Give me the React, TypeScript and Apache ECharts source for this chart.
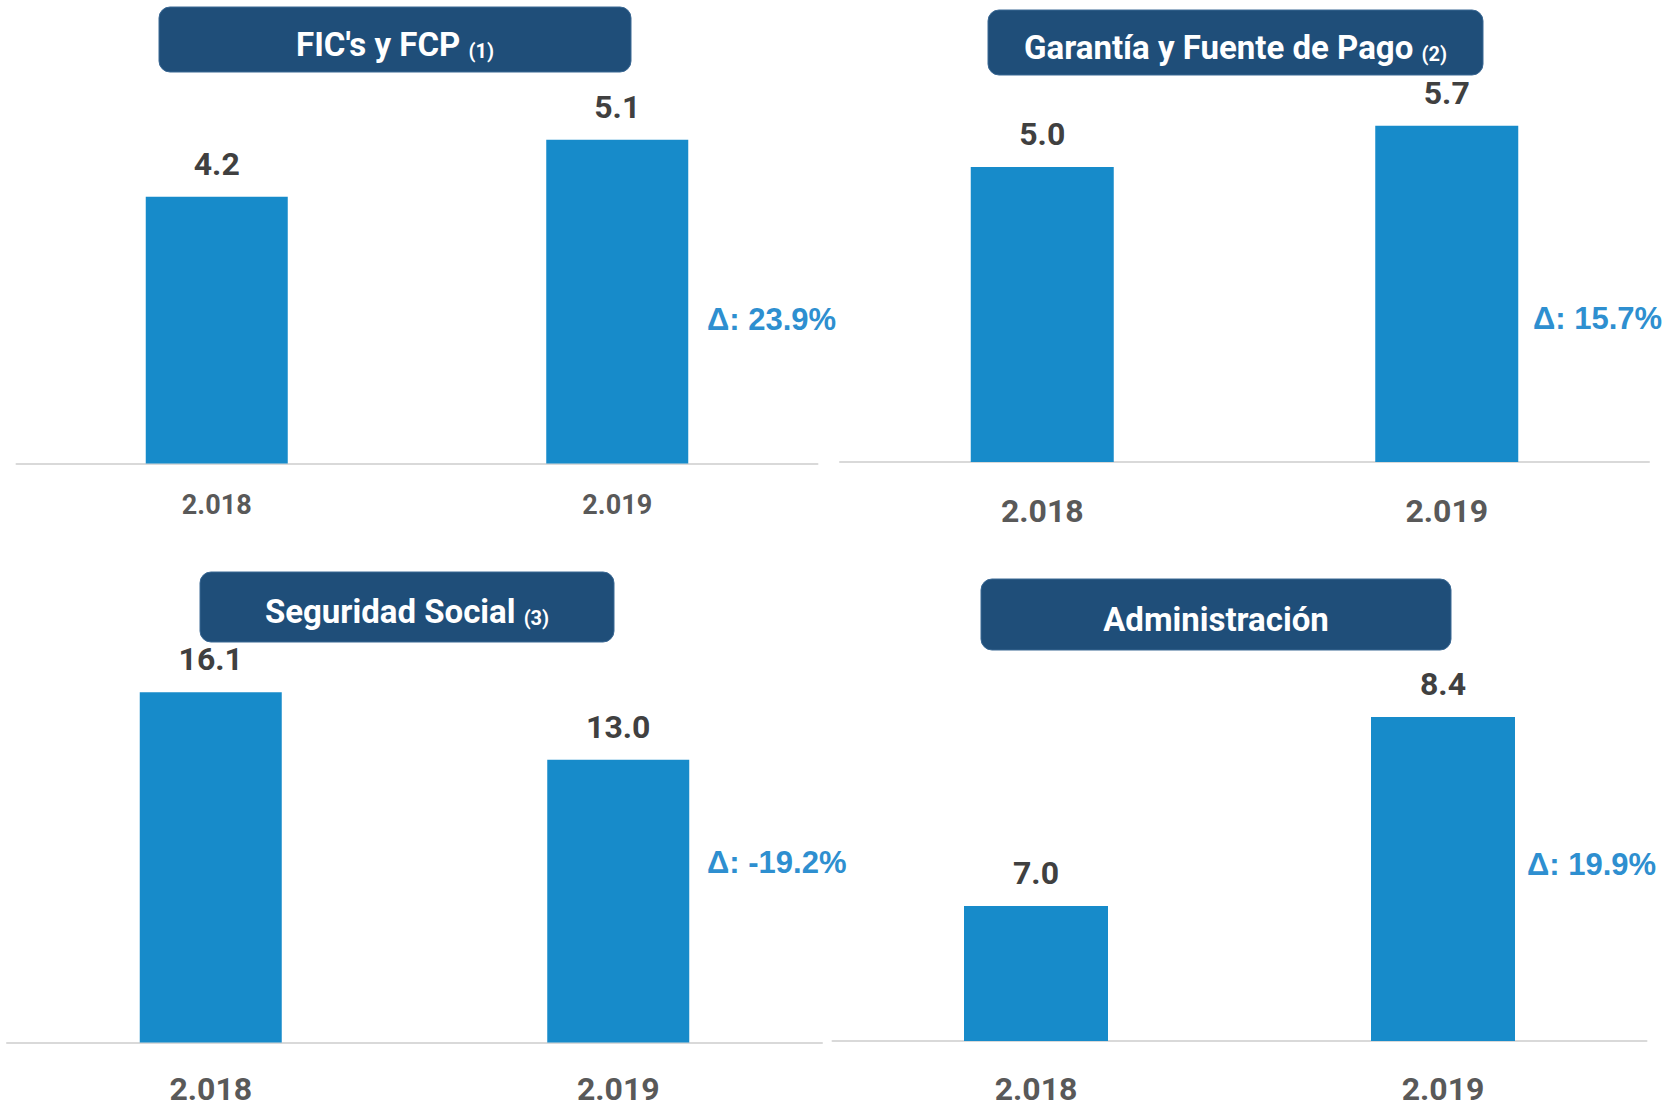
import React, { useEffect, useRef } from "react";
import * as echarts from "echarts";

// Categories and values for the four panels
const years = ["2.018", "2.019"];
const panelTitles = ["FIC's y FCP", "Garantía y Fuente de Pago", "Seguridad Social", "Administración"];
const titleNotes = ["(1)", "(2)", "(3)", ""];
const ficValues = [4.2, 5.1];
const garantiaValues = [5.0, 5.7];
const seguridadValues = [16.1, 13.0];
const administracionValues = [7.0, 8.4];
const deltaLabels = ["Δ: 23.9%", "Δ: 15.7%", "Δ: -19.2%", "Δ: 19.9%"];
const axisMin = [0, 0, 0, 6];
const axisMax = [6, 6.5, 18, 9];

const seriesValues = [ficValues, garantiaValues, seguridadValues, administracionValues];

// Panel geometry (pixels)
const layout = [
  { grid: { left: 16.5, top: 82.5, width: 801, height: 381 }, barWidth: 142, catSize: 27, catMargin: 28,
    box: { x: 159, y: 7, w: 472, h: 65 }, delta: { x: 707, y: 319 } },
  { grid: { left: 840, top: 78.5, width: 809, height: 383.5 }, barWidth: 143, catSize: 32, catMargin: 33,
    box: { x: 988, y: 10, w: 495, h: 65 }, delta: { x: 1533, y: 318 } },
  { grid: { left: 7, top: 651, width: 815, height: 391.5 }, barWidth: 142, catSize: 32, catMargin: 30,
    box: { x: 200, y: 572, w: 414, h: 70 }, delta: { x: 707, y: 862 } },
  { grid: { left: 832.5, top: 636, width: 814, height: 405 }, barWidth: 144, catSize: 32, catMargin: 32,
    box: { x: 981, y: 579, w: 470, h: 71 }, delta: { x: 1527, y: 864 } },
];

const CAL = "Roboto, 'Noto Sans', sans-serif";
const ARIAL = "'Liberation Sans', Arial, sans-serif";
const BAR = "#178BCA";
const TITLE_BG = "#1F4E79";
const DELTA = "#2E8FD0";

export default function App() {
  const ref = useRef<HTMLDivElement>(null);

  useEffect(() => {
    document.body.style.margin = "0";
    if (!ref.current) return;
    const chart = echarts.init(ref.current, undefined, { renderer: "svg" });

    const grids = layout.map((l) => ({ ...l.grid, containLabel: false }));
    const xAxes = layout.map((l, i) => ({
      type: "category",
      gridIndex: i,
      data: years,
      axisTick: { show: false },
      axisLine: { show: true, lineStyle: { color: "#D9D9D9", width: 2 } },
      axisLabel: {
        margin: l.catMargin,
        fontSize: l.catSize,
        fontWeight: "bold",
        fontFamily: CAL,
        color: "#595959",
      },
    }));
    const yAxes = layout.map((_, i) => ({
      type: "value",
      gridIndex: i,
      min: axisMin[i],
      max: axisMax[i],
      show: false,
      splitLine: { show: false },
    }));
    const series = seriesValues.map((vals, i) => ({
      type: "bar",
      xAxisIndex: i,
      yAxisIndex: i,
      data: vals,
      barWidth: layout[i].barWidth,
      itemStyle: { color: BAR },
      label: {
        show: true,
        position: "top",
        distance: 17,
        fontSize: 32,
        fontWeight: "bold",
        fontFamily: CAL,
        color: "#404040",
        formatter: (p: any) => Number(p.value).toFixed(1),
      },
    }));

    const graphics: any[] = [];
    layout.forEach((l, i) => {
      graphics.push({
        type: "rect",
        shape: { x: l.box.x, y: l.box.y, width: l.box.w, height: l.box.h, r: 11 },
        style: { fill: TITLE_BG, stroke: "#3A6894", lineWidth: 1 },
        z: 10,
      });
      const note = titleNotes[i];
      graphics.push({
        type: "text",
        x: l.box.x + l.box.w / 2,
        y: l.box.y + l.box.h / 2 + 1,
        z: 11,
        style: {
          text: note ? `{a|${panelTitles[i]}\u00A0}{b|${note}}` : `{a|${panelTitles[i]}}`,
          align: "center",
          verticalAlign: "middle",
          fill: "#FFFFFF",
          rich: {
            a: { fontSize: 33, fontWeight: "bold", fontFamily: CAL, fill: "#FFFFFF", verticalAlign: "bottom", lineHeight: 40 },
            b: { fontSize: 20, fontWeight: "bold", fontFamily: CAL, fill: "#FFFFFF", verticalAlign: "bottom", lineHeight: 36 },
          },
        },
      });
      graphics.push({
        type: "text",
        x: l.delta.x,
        y: l.delta.y,
        z: 11,
        style: {
          text: deltaLabels[i],
          align: "left",
          verticalAlign: "middle",
          fill: DELTA,
          fontSize: 31,
          fontWeight: "bold",
          fontFamily: ARIAL,
        },
      });
    });

    chart.setOption({
      animation: false,
      backgroundColor: "#FFFFFF",
      grid: grids,
      xAxis: xAxes,
      yAxis: yAxes,
      series,
      graphic: graphics,
    });

    return () => chart.dispose();
  }, []);

  return <div ref={ref} style={{ width: 1668, height: 1110 }} />;
}
